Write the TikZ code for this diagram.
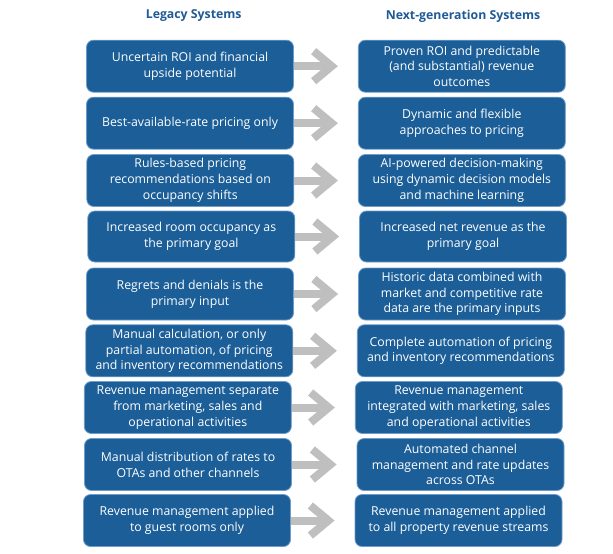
\documentclass[tikz,border=0pt]{standalone}
\usepackage{fontspec}
\setmainfont{Open Sans}
\usepackage{tikz}
\usetikzlibrary{arrows.meta}
\usepackage{xcolor}
\definecolor{boxblue}{HTML}{1B5E98}
\definecolor{headblue}{HTML}{1F5A96}
\definecolor{arrowgray}{HTML}{BFBFBF}
\definecolor{edgeblue}{HTML}{6F9CC8}

\tikzset{
  sysbox/.style={draw=edgeblue, line width=.8pt, fill=boxblue, rounded corners=7pt,
    minimum width=207pt, minimum height=52pt, inner sep=0pt, align=center,
    text=white, font=\fontsize{12.3}{15.7}\selectfont},
  header/.style={text=headblue, font=\fontsize{12.3}{15}\selectfont\bfseries},
  grayarrow/.style={draw=arrowgray, line width=8pt,
    -{Straight Barb[length=18pt,width=30pt]}, shorten >=20pt}
}

\begin{document}
\begin{tikzpicture}[x=1pt,y=-1pt]
\useasboundingbox (0,0) rectangle (613,554);

\node[header] (hl) at (193.7,16) {Legacy Systems};
\node[header] (hr) at (463,16) {Next-generation Systems};

\node[sysbox] (l1) at (190,66.2) {Uncertain ROI and financial\\upside potential};
\node[sysbox] (l2) at (190,123.2) {Best-available-rate pricing only};
\node[sysbox] (l3) at (190.3,180.5) {Rules-based pricing\\recommendations based on\\occupancy shifts};
\node[sysbox, minimum height=51pt] (l4) at (191.3,236.5) {Increased room occupancy as\\the primary goal};
\node[sysbox] (l5) at (190,294) {Regrets and denials is the\\primary input};
\node[sysbox] (l6) at (189.3,350.8) {Manual calculation, or only\\partial automation, of pricing\\and inventory recommendations};
\node[sysbox] (l7) at (187.8,407.5) {Revenue management separate\\from marketing, sales and\\operational activities};
\node[sysbox] (l8) at (188,464.5) {Manual distribution of rates to\\OTAs and other channels};
\node[sysbox] (l9) at (187,520.5) {Revenue management applied\\to guest rooms only};

\node[sysbox] (r1) at (461.8,66.2) {Proven ROI and predictable\\(and substantial) revenue\\outcomes};
\node[sysbox] (r2) at (461.8,123.2) {Dynamic and flexible\\approaches to pricing};
\node[sysbox] (r3) at (461.8,180.5) {AI-powered decision-making\\using dynamic decision models\\and machine learning};
\node[sysbox, minimum height=51pt] (r4) at (463,236.5) {Increased net revenue as the\\primary goal};
\node[sysbox] (r5) at (462,294) {Historic data combined with\\market and competitive rate\\data are the primary inputs};
\node[sysbox] (r6) at (460.8,350.8) {Complete automation of pricing\\and inventory recommendations};
\node[sysbox] (r7) at (458.8,407.5) {Revenue management\\integrated with marketing, sales\\and operational activities};
\node[sysbox] (r8) at (460.5,464.5) {Automated channel\\management and rate updates\\across OTAs};
\node[sysbox] (r9) at (458.5,520.5) {Revenue management applied\\to all property revenue streams};

\foreach \i in {1,...,9}
  \draw[grayarrow] (l\i.east) -- (l\i.east -| r\i.west);

\end{tikzpicture}
\end{document}
